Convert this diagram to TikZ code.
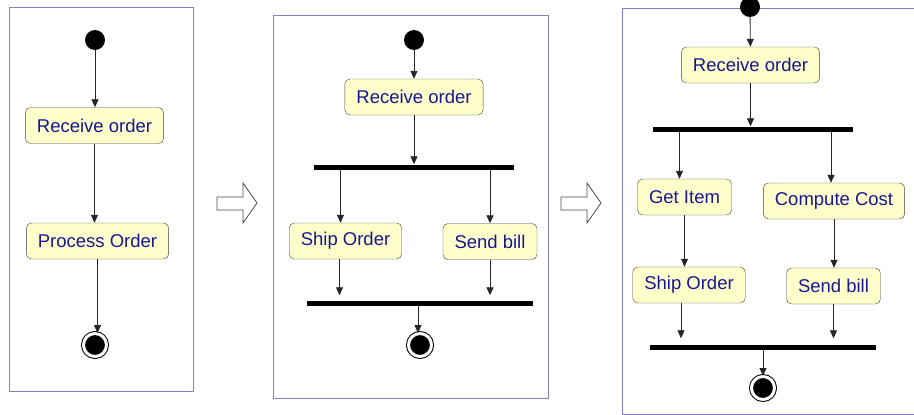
\documentclass[tikz,border=0pt]{standalone}
\usepackage{fontspec}
\setmainfont{Liberation Sans}
\usetikzlibrary{arrows.meta}
\definecolor{framecol}{RGB}{130,130,195}
\definecolor{actfill}{RGB}{255,255,204}
\definecolor{acttext}{RGB}{22,22,150}

\begin{document}
\begin{tikzpicture}[x=1pt, y=-1pt,
    activity/.style={draw=black!75, fill=actfill, rounded corners=5pt, minimum height=36pt,
        inner xsep=11.5pt, text=acttext, font=\fontsize{18.5}{22}\selectfont},
    startnode/.style={circle, fill=black, minimum size=20pt, inner sep=0pt},
    endnode/.style={circle, draw=black, fill=black, double=white, double distance=3pt,
        line width=1pt, minimum size=23pt, inner sep=0pt},
    bar/.style={fill=black, inner sep=0pt, minimum height=5pt},
    frame/.style={draw=framecol, line width=1pt},
    flow/.style={-{Triangle[length=8pt,width=7pt]}, line width=0.8pt, black!85}]

    \useasboundingbox (0,0) rectangle (914,415);

    % panel frames
    \draw[frame] (9,7) rectangle (193,391);
    \draw[frame] (273,15) rectangle (548,398);
    \draw[frame] (622,8) rectangle (940,414);

    % hollow arrows between the panels
    \foreach \dx in {0,344}
        \draw[black!70, line width=0.8pt, shift={(\dx,0)}] (217,197) -- (243,197) -- (243,183)
            -- (257,203) -- (243,223) -- (243,210) -- (217,210) -- cycle;

    % panel 1
    \node[startnode] (start1) at (95,40) {};
    \node[activity] (recv1) at (94.5,125.5) {Receive order};
    \node[activity] (proc1) at (97.5,241) {Process Order};
    \node[endnode] (end1) at (95,345) {};

    \draw[flow] (start1) -- (start1 |- recv1.north);
    \draw[flow] (recv1.south) -- (recv1.south |- proc1.north);
    \draw[flow] (proc1.south) -- (proc1.south |- end1.north);

    % panel 2
    \node[startnode] (start2) at (414,40) {};
    \node[activity] (recv2) at (414,97) {Receive order};
    \node[bar, minimum width=200pt] (fork2) at (414,167) {};
    \node[activity] (ship2) at (345.5,241) {Ship Order};
    \node[activity] (send2) at (490,241.5) {Send bill};
    \node[bar, minimum width=226pt] (join2) at (420,303) {};
    \node[endnode] (end2) at (420,345) {};

    \draw[flow] (start2) -- (recv2);
    \draw[flow] (recv2) -- (fork2);
    \draw[flow] ([xshift=-5pt]ship2.north |- fork2.south) -- ([xshift=-5pt]ship2.north);
    \draw[flow] (send2.north |- fork2.south) -- (send2.north);
    \draw[flow, shorten >=5pt] ([xshift=-6pt]ship2.south) -- ([xshift=-6pt]ship2.south |- join2.north);
    \draw[flow, shorten >=5pt] (send2.south) -- (send2.south |- join2.north);
    \draw[flow] ([xshift=-2pt]join2.south) -- ([xshift=-2pt]end2.north);

    % panel 3
    \node[startnode] (start3) at (750,7) {};
    \node[activity] (recv3) at (750.5,65) {Receive order};
    \node[bar, minimum width=200pt] (fork3) at (753,129) {};
    \node[activity] (get3) at (684.5,197) {Get Item};
    \node[activity] (cost3) at (834,201) {Compute Cost};
    \node[activity] (ship3) at (689,285) {Ship Order};
    \node[activity] (send3) at (833.5,286) {Send bill};
    \node[bar, minimum width=226pt] (join3) at (763,347) {};
    \node[endnode] (end3) at (763,388) {};

    \draw[flow] (start3) -- (recv3);
    \draw[flow] (recv3.south) -- (recv3.south |- fork3.north);
    \draw[flow] ([xshift=-5pt]get3.north |- fork3.south) -- ([xshift=-5pt]get3.north);
    \draw[flow] ([xshift=-3pt]cost3.north |- fork3.south) -- ([xshift=-3pt]cost3.north);
    \draw[flow] (get3.south) -- (get3.south |- ship3.north);
    \draw[flow] (cost3.south) -- (cost3.south |- send3.north);
    \draw[flow, shorten >=6pt] ([xshift=-8pt]ship3.south) -- ([xshift=-8pt]ship3.south |- join3.north);
    \draw[flow, shorten >=6pt] (send3.south) -- (send3.south |- join3.north);
    \draw[flow] (join3) -- (end3);

\end{tikzpicture}
\end{document}
